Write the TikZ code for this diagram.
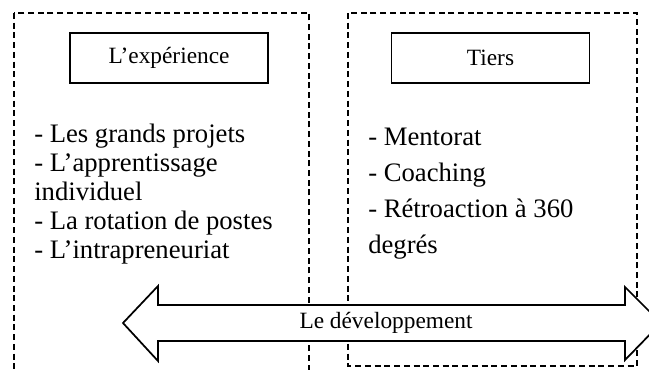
\documentclass[tikz,border=0pt]{standalone}
\usepackage{fontspec}
\setmainfont{Liberation Serif}
\usepackage{xcolor}
\usepackage{tikz}
\usetikzlibrary{calc, positioning}

\tikzset{
    cadre/.style={draw, line width=0.9pt, dash pattern=on 4.5pt off 2.8pt},
    titre/.style={draw, line width=1.3pt, minimum width=148.5pt, minimum height=37.5pt,
                  inner sep=0pt, font=\fontsize{17.5}{21}\selectfont},
    liste/.style={align=left, inner sep=0pt, anchor=base west}
}

\begin{document}
\begin{tikzpicture}[>=latex, x=0.75pt, y=-0.75pt]
    \useasboundingbox (0,0) rectangle (649,369);
    \clip (0,0) rectangle (649,369);

    % Cadres en pointillés
    \draw[cadre] (14,13) rectangle (309,385);
    \draw[cadre] (348,13) rectangle (637,366);

    % Titres
    \node[titre] (exp) at (169,58) {L’expérience};
    \node[titre] (tiers) at (490.5,58) {Tiers};

    % Listes (ancrées sur la dernière ligne)
    \node[liste, font=\fontsize{20}{21.75}\selectfont] (lexp) at (34,258)
        {- Les grands projets\\- L’apprentissage\\individuel\\- La rotation de postes\\- L’intrapreneuriat};
    \node[liste, font=\fontsize{20}{26.8}\selectfont] (ltiers) at (368,253)
        {- Mentorat\\- Coaching\\- Rétroaction à 360\\degrés};

    % Flèche double
    \filldraw[fill=white, line width=1.3pt, line join=miter]
        (123,323) -- (158,286) -- (158,305) -- (625,305) -- (625,287) -- (661,323)
        -- (625,360) -- (625,341) -- (158,341) -- (158,361) -- cycle;
    \node[font=\fontsize{17.5}{21}\selectfont, inner sep=0pt] (dev) at (386,323) {Le développement};
\end{tikzpicture}
\end{document}
